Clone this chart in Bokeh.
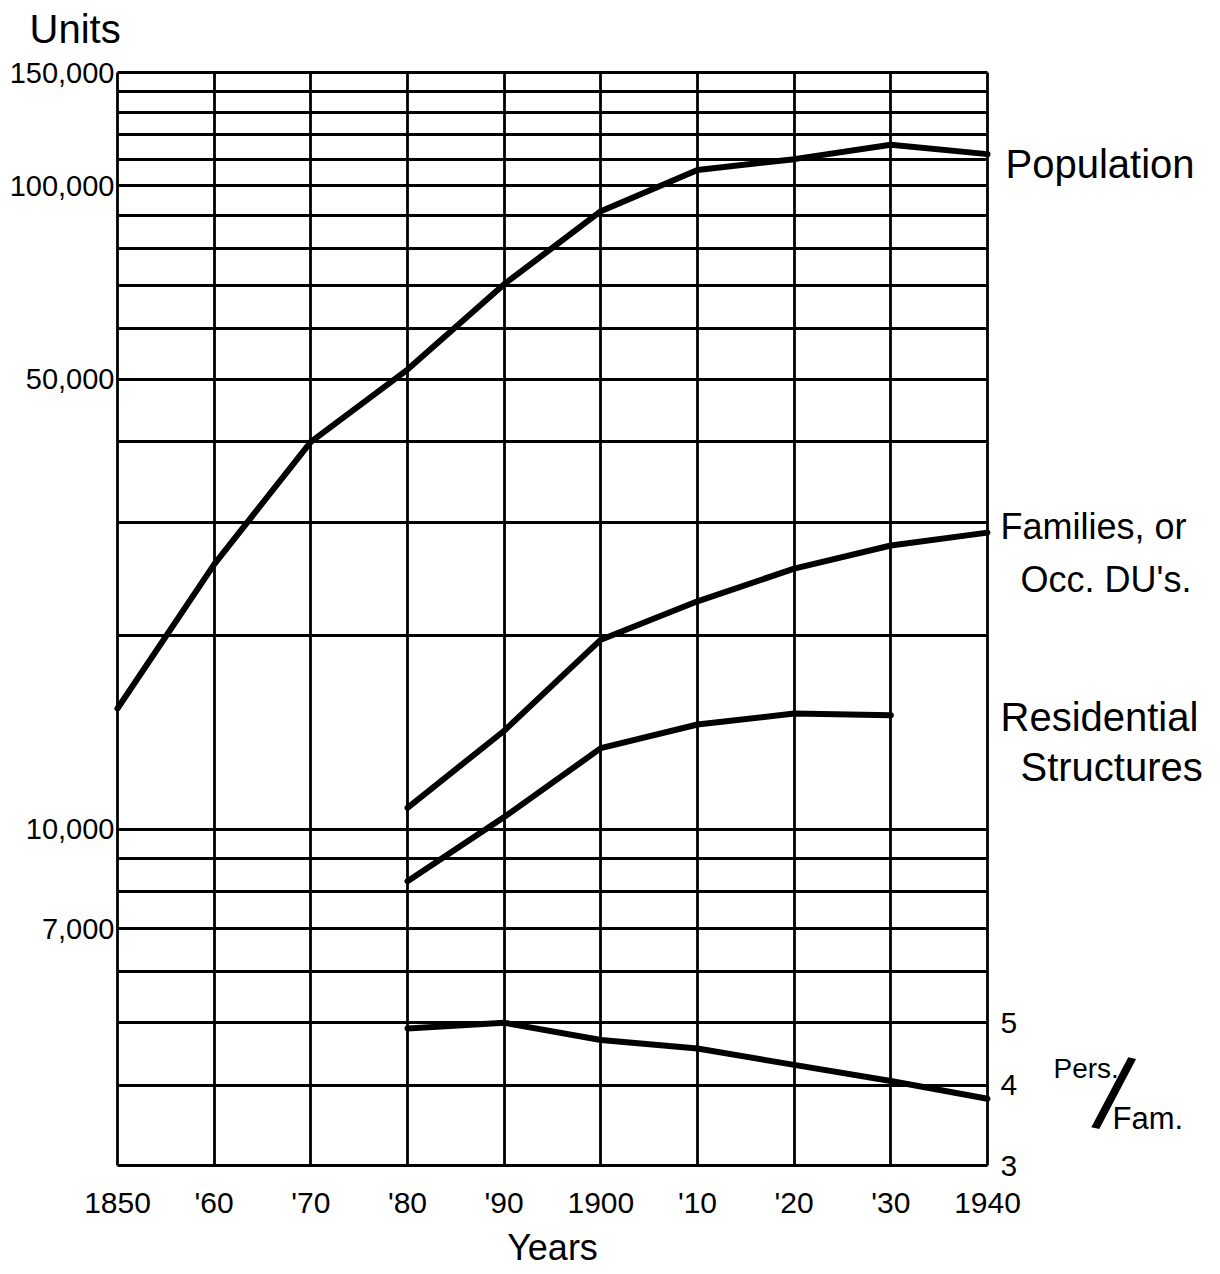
from bokeh.plotting import figure
from bokeh.models import FixedTicker, LogAxis, Range1d, LogScale, Label, NumeralTickFormatter
from bokeh.embed import file_html
from bokeh.resources import INLINE

# ---------------- data ----------------
years = [1850, 1860, 1870, 1880, 1890, 1900, 1910, 1920, 1930, 1940]
x_tick_labels = ["1850", "'60", "'70", "'80", "'90", "1900", "'10", "'20", "'30", "1940"]

population = [15400, 25800, 40000, 51800, 70300, 91300, 105800, 110000, 115800, 112000]

fam_years = [1880, 1890, 1900, 1910, 1920, 1930, 1940]
families = [10790, 14220, 19700, 22600, 25400, 27600, 28900]

res_years = [1880, 1890, 1900, 1910, 1920, 1930]
residential = [8300, 10440, 13360, 14540, 15120, 15030]

pf_years = [1880, 1890, 1900, 1910, 1920, 1930, 1940]
pers_per_fam = [4.90, 5.00, 4.70, 4.56, 4.30, 4.06, 3.81]

y_ticks = [7000, 10000, 50000, 100000, 150000]
y_grid = list(range(3000, 10001, 1000)) + list(range(20000, 150001, 10000))
pf_ticks = [3, 4, 5]

X0, X1 = 1850, 1940        # chart area extent (years)
Y0, Y1 = 3000, 150000      # chart area extent (units)
PF0, PF1 = 3, 150          # persons/family scale (same log span)

FONT = "Liberation Sans"

# ---------------- layout (pixels) ----------------
# The Bokeh frame covers the whole canvas; the chart area is placed inside it
# and the axes are pinned to the chart-area edges, so that all texts can sit
# around the chart without being clipped.
W, H = 1210, 1270
area_l, area_r, area_t, area_b = 117, 987, 72, 1165
px_per_year = (area_r - area_l) / (X1 - X0)
px_per_dec = (area_b - area_t) / 1.69897
x_start = X0 - area_l / px_per_year
x_end = X1 + (W - area_r) / px_per_year
kt = 10 ** (area_t / px_per_dec)
kb = 10 ** ((H - area_b) / px_per_dec)

p = figure(width=W, height=H,
           x_range=Range1d(x_start, x_end),
           y_range=Range1d(Y0 / kb, Y1 * kt),
           y_axis_type="log", output_backend="svg", toolbar_location=None,
           min_border=0, min_border_left=0, min_border_right=0,
           min_border_top=0, min_border_bottom=0)
p.background_fill_color = "white"
p.border_fill_color = "white"
p.outline_line_color = None

# grid (also forms the chart border)
p.xgrid.ticker = FixedTicker(ticks=years)
p.ygrid.ticker = FixedTicker(ticks=y_grid)
p.xgrid.cross_bounds = (Y0, Y1)
p.ygrid.cross_bounds = (X0, X1)
for g in (p.xgrid, p.ygrid):
    g.grid_line_color = "black"
    g.grid_line_width = 2.8
    g.grid_line_alpha = 1.0

# x axis, pinned at the bottom of the chart area
xa = p.xaxis[0]
xa.fixed_location = Y0
xa.ticker = FixedTicker(ticks=years)
xa.major_label_overrides = {y: t for y, t in zip(years, x_tick_labels)}
# y axis (left), pinned at 1850
ya = p.yaxis[0]
ya.fixed_location = X0
ya.ticker = FixedTicker(ticks=y_ticks)
ya.formatter = NumeralTickFormatter(format="0,0")

# right axis for persons per family, pinned at 1940
p.extra_y_ranges = {"pf": Range1d(PF0 / kb, PF1 * kt)}
p.extra_y_scales = {"pf": LogScale()}
ra = LogAxis(y_range_name="pf", ticker=FixedTicker(ticks=pf_ticks),
             formatter=NumeralTickFormatter(format="0"), fixed_location=X1)
p.add_layout(ra, "right")

for ax in (xa, ya, ra):
    ax.axis_line_color = None
    ax.major_tick_line_color = None
    ax.minor_tick_line_color = None
    ax.major_tick_out = 0
    ax.major_tick_in = 0
    ax.major_label_text_font = FONT
    ax.major_label_text_font_size = "30px"
    ax.major_label_text_color = "black"
ya.major_label_text_font_size = "29px"
xa.major_label_standoff = 20
ya.major_label_standoff = 3
ra.major_label_standoff = 13

# ---------------- series ----------------
style = dict(line_color="black", line_width=6, line_cap="round", line_join="round")
p.line(years, population, **style)
p.line(fam_years, families, **style)
p.line(res_years, residential, **style)
p.line(pf_years, pers_per_fam, y_range_name="pf", **style)

# ---------------- texts ----------------
def lab(text, x, y, size, xo=0, yo=0, rng=None, align="left", angle=0):
    kw = dict(x=x, y=y, x_offset=xo, y_offset=yo, text=text, text_font=FONT,
              text_font_size=size, text_align=align, text_baseline="middle",
              text_color="black", angle=angle)
    if rng:
        kw["y_range_name"] = rng
    p.add_layout(Label(**kw))

lab("Units", X0, Y1, "40px", xo=-88, yo=44)
lab("Years", (X0 + X1) / 2, Y0, "36px", yo=-82, align="center")
lab("Population", X1, 108300, "40px", xo=18)
lab("Families, or", X1, 29570, "36px", xo=13)
lab("Occ. DU's.", X1, 24400, "36px", xo=33)
lab("Residential", X1, 14960, "40px", xo=13)
lab("Structures", X1, 12470, "40px", xo=33)
lab("Pers.", X1, 4.25, "28px", xo=66, rng="pf")
lab("Fam.", X1, 3.545, "31px", xo=125, rng="pf")
lab("/", X1, 3.87, "104px", xo=126, rng="pf", align="center", angle=-0.22)

open("out.html", "w").write(file_html(p, INLINE))
